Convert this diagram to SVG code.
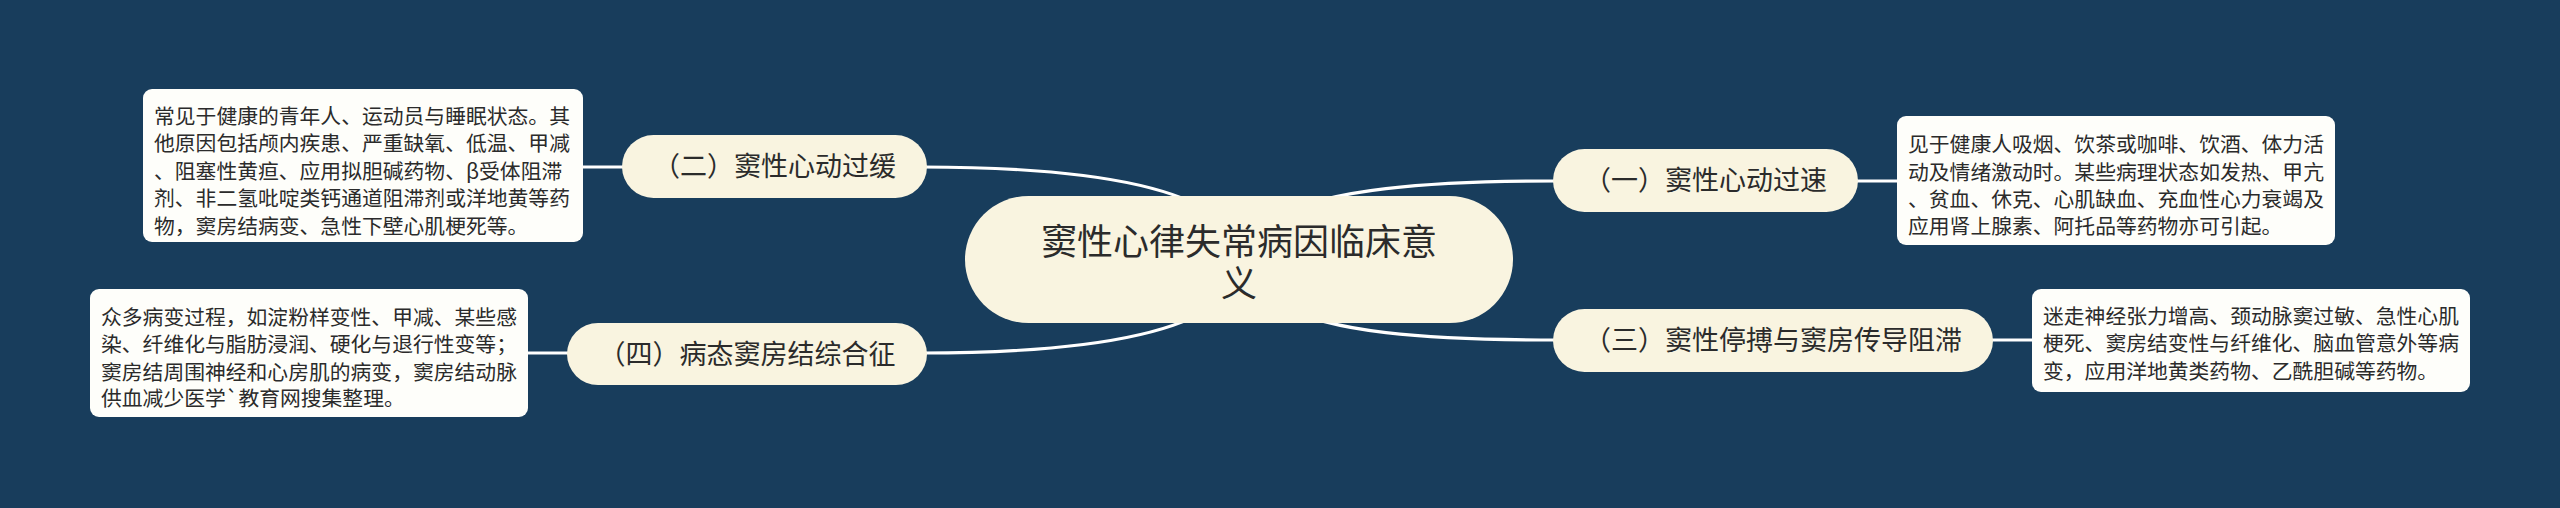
<svg xmlns="http://www.w3.org/2000/svg" width="2560" height="508" viewBox="0 0 2560 508">
<style>
.bg{fill:#183d5c}
.pill{fill:#f9f4e0}
.box{fill:#fefefa}
.conn{fill:none;stroke:#ffffff;stroke-width:3.2;stroke-linecap:round}
text{font-family:"Noto Sans CJK SC","Noto Sans",sans-serif;fill:#2b2b2b}
.c{font-size:36px;text-anchor:middle}
.b{font-size:27px;text-anchor:middle}
.t{font-size:20.8px}
</style>
<rect class="bg" x="0" y="0" width="2560" height="508"/>
<g id="connectors">
<path class="conn" d="M1215,215 C1165,180 1060,167 922,167"/>
<path class="conn" d="M1280,215 C1330,190 1420,181 1558,181"/>
<path class="conn" d="M1215,305 C1165,340 1060,353 922,353"/>
<path class="conn" d="M1280,305 C1330,332 1420,340 1558,340"/>
<path class="conn" d="M583,167 L626,167"/>
<path class="conn" d="M1854,181 L1897,181"/>
<path class="conn" d="M528,353 L571,353"/>
<path class="conn" d="M1989,340 L2032,340"/>
</g>
<g id="center">
<rect class="pill" x="965" y="196" width="548" height="127" rx="63.5"/>
<text class="c" x="1239" y="255">窦性心律失常病因临床意</text>
<text class="c" x="1239" y="297">义</text>
</g>
<g id="n2">
<rect class="pill" x="622" y="135" width="305" height="63" rx="31.5"/>
<text class="b" x="774.5" y="176">（二）窦性心动过缓</text>
</g>
<g id="n2-detail">
<rect class="box" x="143" y="89" width="440" height="153" rx="9"/>
<text class="t" x="154" y="123.5">常见于健康的青年人、运动员与睡眠状态。其</text>
<text class="t" x="154" y="151">他原因包括颅内疾患、严重缺氧、低温、甲减</text>
<text class="t" x="154" y="178.5">、阻塞性黄疸、应用拟胆碱药物、β受体阻滞</text>
<text class="t" x="154" y="206">剂、非二氢吡啶类钙通道阻滞剂或洋地黄等药</text>
<text class="t" x="154" y="233.5">物，窦房结病变、急性下壁心肌梗死等。</text>
</g>
<g id="n1">
<rect class="pill" x="1553" y="149" width="305" height="63" rx="31.5"/>
<text class="b" x="1705.5" y="190">（一）窦性心动过速</text>
</g>
<g id="n1-detail">
<rect class="box" x="1897" y="116" width="438" height="129" rx="9"/>
<text class="t" x="1908" y="152">见于健康人吸烟、饮茶或咖啡、饮酒、体力活</text>
<text class="t" x="1908" y="179.5">动及情绪激动时。某些病理状态如发热、甲亢</text>
<text class="t" x="1908" y="207">、贫血、休克、心肌缺血、充血性心力衰竭及</text>
<text class="t" x="1908" y="234">应用肾上腺素、阿托品等药物亦可引起。</text>
</g>
<g id="n4">
<rect class="pill" x="567" y="323" width="360" height="62" rx="31"/>
<text class="b" x="747" y="364">（四）病态窦房结综合征</text>
</g>
<g id="n4-detail">
<rect class="box" x="90" y="289" width="438" height="128" rx="9"/>
<text class="t" x="101" y="324.5">众多病变过程，如淀粉样变性、甲减、某些感</text>
<text class="t" x="101" y="352">染、纤维化与脂肪浸润、硬化与退行性变等；</text>
<text class="t" x="101" y="379.5">窦房结周围神经和心房肌的病变，窦房结动脉</text>
<text class="t" x="101" y="406">供血减少医学`教育网搜集整理。</text>
</g>
<g id="n3">
<rect class="pill" x="1553" y="309" width="440" height="63" rx="31.5"/>
<text class="b" x="1773" y="350">（三）窦性停搏与窦房传导阻滞</text>
</g>
<g id="n3-detail">
<rect class="box" x="2032" y="289" width="438" height="103" rx="9"/>
<text class="t" x="2043" y="323.5">迷走神经张力增高、颈动脉窦过敏、急性心肌</text>
<text class="t" x="2043" y="351">梗死、窦房结变性与纤维化、脑血管意外等病</text>
<text class="t" x="2043" y="378.5">变，应用洋地黄类药物、乙酰胆碱等药物。</text>
</g>
</svg>
